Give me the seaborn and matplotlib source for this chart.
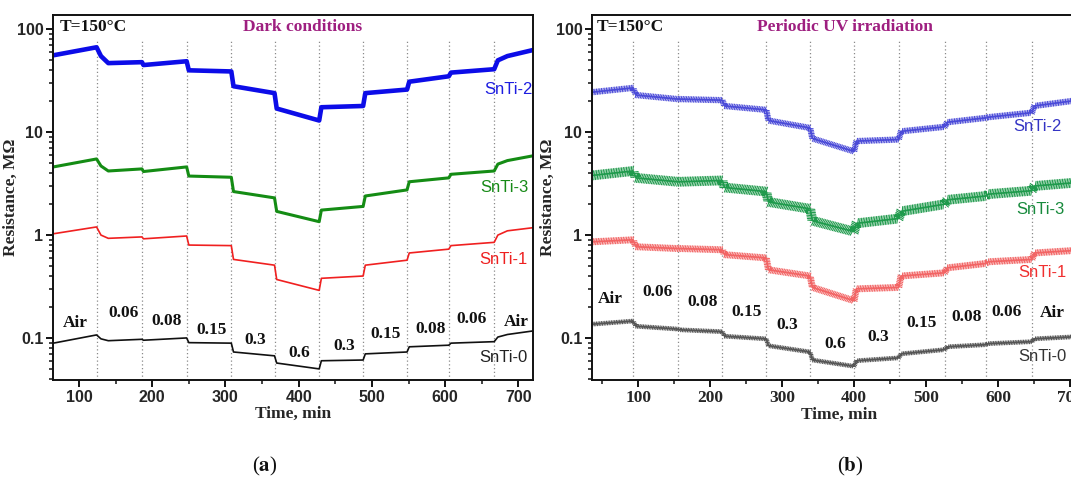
import numpy as np
import pandas as pd
import matplotlib
matplotlib.use("Agg")
import matplotlib.pyplot as plt
from matplotlib import patheffects as pe
from matplotlib.ticker import MultipleLocator, LogLocator, NullFormatter
import seaborn as sns

# ---------------- data ----------------
# (a) Dark conditions
time_a = [65, 124, 130, 140, 186, 188, 247, 250, 308, 311, 367, 370, 428, 431,
          488, 491, 548, 551, 605, 608, 667, 672, 685, 720]
snti2_a = [56, 67, 55, 47, 48, 45, 49, 40, 39, 28, 24, 17, 13, 17.5,
           18, 24, 26, 31, 35, 38, 41, 50, 55, 63]
snti3_a = [4.6, 5.5, 4.7, 4.2, 4.4, 4.15, 4.6, 3.75, 3.65, 2.65, 2.3, 1.7, 1.35, 1.75,
           1.9, 2.4, 2.75, 3.3, 3.6, 3.9, 4.2, 4.9, 5.3, 5.9]
snti1_a = [1.03, 1.2, 1.0, 0.93, 0.96, 0.92, 0.98, 0.8, 0.79, 0.58, 0.51, 0.37, 0.29, 0.38,
           0.40, 0.51, 0.57, 0.67, 0.73, 0.79, 0.85, 1.0, 1.1, 1.18]
snti0_a = [0.089, 0.107, 0.098, 0.094, 0.097, 0.095, 0.1, 0.09, 0.089, 0.073, 0.067, 0.057, 0.050, 0.060,
           0.061, 0.070, 0.073, 0.082, 0.085, 0.089, 0.092, 0.102, 0.108, 0.117]
switch_a = [124, 186, 247, 308, 367, 428, 488, 548, 605, 667]
conc_labels = ["Air", "0.06", "0.08", "0.15", "0.3", "0.6", "0.3", "0.15", "0.08", "0.06", "Air"]
conc_x_a = [95, 161, 220, 281, 341, 401, 462, 519, 580, 636, 697]
conc_y_a = [0.14, 0.175, 0.146, 0.12, 0.096, 0.0715, 0.0836, 0.109, 0.122, 0.153, 0.143]

# (b) Periodic UV irradiation
time_b = [36, 93, 97, 155, 158, 217, 220, 278, 281, 339, 342, 400, 403, 462,
          465, 526, 529, 583, 586, 647, 650, 722]
snti2_b = [24.5, 27, 23, 21, 21, 20.5, 18, 16.5, 13, 11, 8.7, 6.5, 8.2, 8.5,
           10.2, 11.3, 12.5, 13.8, 14, 15.5, 18, 21]
snti3_b = [3.8, 4.2, 3.6, 3.3, 3.3, 3.4, 2.9, 2.65, 2.1, 1.8, 1.38, 1.08, 1.3, 1.45,
           1.7, 2.0, 2.2, 2.4, 2.5, 2.7, 3.0, 3.3]
snti1_b = [0.86, 0.9, 0.77, 0.74, 0.74, 0.72, 0.645, 0.6, 0.46, 0.40, 0.31, 0.23, 0.30, 0.31,
           0.40, 0.43, 0.48, 0.53, 0.55, 0.58, 0.67, 0.72]
snti0_b = [0.136, 0.146, 0.13, 0.122, 0.12, 0.115, 0.104, 0.098, 0.084, 0.073, 0.061, 0.053, 0.060, 0.064,
           0.070, 0.077, 0.082, 0.086, 0.088, 0.092, 0.098, 0.104]
switch_b = [93, 155, 217, 278, 339, 400, 462, 526, 583, 647]
conc_x_b = [62, 127, 190, 251, 307, 374, 434, 494, 556, 612, 675]
conc_y_b = [0.24, 0.28, 0.224, 0.179, 0.134, 0.087, 0.102, 0.14, 0.16, 0.18, 0.175]

series_names = ["SnTi-2", "SnTi-3", "SnTi-1", "SnTi-0"]
name_x_a = [686, 681, 679, 680]
name_y_a = [25.8, 2.88, 0.574, 0.064]
name_x_b = [654, 658, 661, 662]
name_y_b = [11.3, 1.76, 0.43, 0.066]

xticks = [100, 200, 300, 400, 500, 600, 700]
ytick_vals = [0.1, 1, 10, 100]
ytick_labels = ["0.1", "1", "10", "100"]

# ---------------- style ----------------
sns.set_style("ticks")
SERIF = ["Liberation Serif", "DejaVu Serif"]
SANS = ["Liberation Sans", "DejaVu Sans"]
plt.rcParams["font.family"] = SANS
plt.rcParams["mathtext.fontset"] = "stix"

W, H = 1071, 479
fig = plt.figure(figsize=(W / 100, H / 100), dpi=100)

def px_ax(x0, x1, ytop, ybot):
    return fig.add_axes([x0 / W, (H - ybot) / H, (x1 - x0) / W, (ybot - ytop) / H])

axA = px_ax(53, 533, 15, 380)
axB = px_ax(592, 1086, 15, 380)

colors_a = ["#0c0ce8", "#148c14", "#f02020", "#111111"]
widths_a = [3.3, 2.2, 1.2, 1.2]
colors_b = ["#4a4ad8", "#1f9a4c", "#f26464", "#555555"]
amp_b = [1.7, 2.8, 1.9, 1.2]
txtcol_a = ["#1d1de0", "#178a17", "#ee2020", "#222222"]
txtcol_b = ["#3434c4", "#178a3c", "#f03030", "#333333"]
purple = "#9e1f80"


def style_axes(ax, xlim, serif_xticks):
    ax.set_yscale("log")
    ax.set_xlim(*xlim)
    ax.set_ylim(0.039, 138)
    ax.set_xticks(xticks)
    ax.xaxis.set_minor_locator(MultipleLocator(50))
    ax.set_yticks(ytick_vals)
    ax.set_yticklabels(ytick_labels)
    ax.yaxis.set_minor_locator(LogLocator(base=10, subs=np.arange(2, 10)))
    ax.yaxis.set_minor_formatter(NullFormatter())
    for s in ax.spines.values():
        s.set_linewidth(1.4)
        s.set_color("#111111")
    ax.tick_params(which="major", direction="out", length=5, width=1.4, pad=2,
                   color="#111111")
    ax.tick_params(which="minor", direction="out", length=3, width=1.1,
                   color="#111111")
    ax.tick_params(top=False, right=False)
    for lab in ax.get_yticklabels():
        lab.set_fontfamily(SANS)
        lab.set_fontweight("bold")
        lab.set_fontsize(11.5)
    for lab in ax.get_xticklabels():
        if serif_xticks:
            lab.set_fontfamily(SERIF)
            lab.set_fontsize(12.5)
        else:
            lab.set_fontfamily(SANS)
            lab.set_fontsize(11.5)
        lab.set_fontweight("bold")
    ax.set_xlabel("Time, min", fontfamily=SERIF, fontweight="bold", fontsize=12.5, labelpad=1)
    ax.set_ylabel("Resistance, M\u03a9", fontfamily=SERIF, fontweight="bold", fontsize=12.5)
    ax.yaxis.set_label_coords(-0.071, 0.5)


# --- panel (a)
for xv in switch_a:
    axA.axvline(xv, ymin=0, ymax=0.935, color="#8a8a8a", lw=0.9, ls=(0, (1, 2)))
for vals, c, w in zip([snti2_a, snti3_a, snti1_a, snti0_a], colors_a, widths_a):
    df = pd.DataFrame({"t": time_a, "r": vals})
    sns.lineplot(data=df, x="t", y="r", ax=axA, color=c, lw=w, legend=False,
                 solid_joinstyle="round")
style_axes(axA, (64.5, 720), False)
for lab, xv, yv in zip(conc_labels, conc_x_a, conc_y_a):
    axA.text(xv, yv, lab, ha="center", va="center", fontfamily=SERIF,
             fontweight="bold", fontsize=12.5, color="#111111")
for n, xv, yv, c in zip(series_names, name_x_a, name_y_a, txtcol_a):
    axA.text(xv, yv, n, ha="center", va="center", fontfamily=SANS, fontsize=12, color=c)
axA.text(0.013, 0.967, "T=150\u00b0C", transform=axA.transAxes, ha="left", va="center",
         fontfamily=SERIF, fontweight="bold", fontsize=12.5, color="#111111")
axA.text(0.52, 0.967, "Dark conditions", transform=axA.transAxes, ha="center", va="center",
         fontfamily=SERIF, fontweight="bold", fontsize=12.5, color=purple)

# --- panel (b)
for xv in switch_b:
    axB.axvline(xv, ymin=0, ymax=0.935, color="#8a8a8a", lw=0.9, ls=(0, (1, 2)))
for vals, c, a in zip([snti2_b, snti3_b, snti1_b, snti0_b], colors_b, amp_b):
    df = pd.DataFrame({"t": time_b, "r": vals})
    effects = [
        pe.TickedStroke(spacing=1.2, angle=75, length=a, linewidth=0.8, foreground=c),
        pe.TickedStroke(spacing=1.2, angle=-105, length=a, linewidth=0.8, foreground=c),
        pe.Normal(),
    ]
    sns.lineplot(data=df, x="t", y="r", ax=axB, color=c, lw=1.2, legend=False,
                 path_effects=effects)
style_axes(axB, (36, 722), True)
axB.yaxis.set_label_coords(-0.073, 0.5)
for lab, xv, yv in zip(conc_labels, conc_x_b, conc_y_b):
    axB.text(xv, yv, lab, ha="center", va="center", fontfamily=SERIF,
             fontweight="bold", fontsize=12.5, color="#111111")
for n, xv, yv, c in zip(series_names, name_x_b, name_y_b, txtcol_b):
    axB.text(xv, yv, n, ha="center", va="center", fontfamily=SANS, fontsize=12, color=c)
axB.text(0.01, 0.967, "T=150\u00b0C", transform=axB.transAxes, ha="left", va="center",
         fontfamily=SERIF, fontweight="bold", fontsize=12.5, color="#111111")
axB.text(0.513, 0.967, "Periodic UV irradiation", transform=axB.transAxes, ha="center",
         va="center", fontfamily=SERIF, fontweight="bold", fontsize=12.5, color=purple)

# panel captions
fig.text(265 / W, 1 - 466 / H, r"($\mathbf{a}$)", ha="center", va="center",
         fontfamily=SERIF, fontsize=15, color="#111111")
fig.text(850 / W, 1 - 466 / H, r"($\mathbf{b}$)", ha="center", va="center",
         fontfamily=SERIF, fontsize=15, color="#111111")

fig.savefig("out.png", dpi=100)
